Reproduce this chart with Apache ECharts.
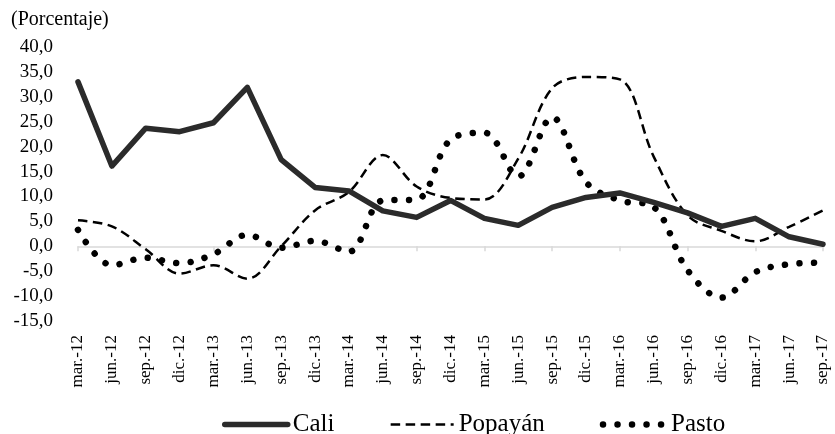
<!DOCTYPE html>
<html>
<head>
<meta charset="utf-8">
<script src="https://cdn.jsdelivr.net/npm/echarts@6/dist/echarts.min.js"></script>
<style>
html, body { margin: 0; padding: 0; background: #fff; }
#main { width: 835px; height: 434px; }
</style>
</head>
<body>
<div id="main"></div>
<script>
var meses = ['mar.-12', 'jun.-12', 'sep.-12', 'dic.-12', 'mar.-13', 'jun.-13', 'sep.-13', 'dic.-13',
	'mar.-14', 'jun.-14', 'sep.-14', 'dic.-14', 'mar.-15', 'jun.-15', 'sep.-15', 'dic.-15',
	'mar.-16', 'jun.-16', 'sep.-16', 'dic.-16', 'mar.-17', 'jun.-17', 'sep.-17'];
var cali = [33.0, 16.1, 23.7, 23.0, 24.8, 31.9, 17.4, 11.8, 11.1, 7.1, 5.8, 9.2,
	5.6, 4.2, 7.8, 9.8, 10.7, 8.8, 6.7, 4.0, 5.6, 1.9, 0.4];
var popayan = [5.2, 4.0, -0.6, -5.5, -3.8, -6.5, 0.0, 7.2, 10.9, 18.3, 12.0, 9.7,
	9.4, 17.6, 31.7, 34.0, 33.5, 18.0, 6.2, 3.1, 1.0, 3.9, 7.2];
var pasto = [3.3, -3.8, -2.3, -3.4, -1.6, 2.3, -0.3, 1.1, -1.1, 9.2, 9.4, 21.4,
	22.8, 14.0, 25.9, 12.9, 9.2, 7.9, -4.8, -10.3, -5.2, -3.6, -3.3];

var fuente = '"Liberation Serif", "Times New Roman", serif';
var letraLeyenda = { fontFamily: fuente, fontSize: 25, color: '#000' };
var myChart = echarts.init(document.getElementById('main'));

myChart.setOption({
	backgroundColor: '#fff',
	animation: false,
	textStyle: { fontFamily: fuente },
	title: {
		text: '(Porcentaje)',
		left: 11,
		top: 10,
		padding: 0,
		textStyle: { fontFamily: fuente, fontSize: 20, fontWeight: 'normal', color: '#000' }
	},
	legend: {
		left: 222,
		bottom: -3,
		padding: 0,
		itemWidth: 63,
		itemHeight: 14,
		itemGap: 55,
		itemStyle: { opacity: 0 },
		textStyle: letraLeyenda,
		data: [
			{ name: 'Cali', lineStyle: { width: 5.5 }, textStyle: letraLeyenda },
			{ name: 'Popayán', lineStyle: { width: 2.5 }, textStyle: letraLeyenda },
			{ name: 'Pasto', lineStyle: { width: 6.5 }, textStyle: letraLeyenda }
		]
	},
	grid: {
		left: 78,
		right: 12,
		top: 47,
		bottom: 113
	},
	xAxis: [{
			type: 'category',
			data: meses,
			boundaryGap: false,
			axisLine: { onZero: true, lineStyle: { color: '#d9d9d9', width: 1.5 } },
			axisTick: { show: true, length: 5, lineStyle: { color: '#d9d9d9', width: 1.5 } },
			axisLabel: { show: false },
			splitLine: { show: false }
		},
		{
			type: 'category',
			data: meses,
			position: 'bottom',
			boundaryGap: false,
			axisLine: { show: false, onZero: false },
			axisTick: { show: false },
			axisLabel: {
				rotate: 90,
				interval: 0,
				margin: 14,
				fontFamily: fuente,
				fontSize: 17,
				color: '#000'
			},
			splitLine: { show: false }
		}
	],
	yAxis: {
		type: 'value',
		min: -15,
		max: 40,
		interval: 5,
		axisLine: { show: false },
		axisTick: { show: false },
		splitLine: { show: false },
		axisLabel: {
			margin: 25,
			fontFamily: fuente,
			fontSize: 19,
			color: '#000',
			formatter: function(v) {
				return v.toFixed(1).replace('.', ',');
			}
		}
	},
	series: [{
			name: 'Cali',
			type: 'line',
			data: cali,
			symbol: 'none',
			itemStyle: { color: '#2b2b2b' },
			lineStyle: { color: '#2b2b2b', width: 5.5, cap: 'round', join: 'round' },
			z: 3
		},
		{
			name: 'Popayán',
			type: 'line',
			data: popayan,
			symbol: 'none',
			smooth: 0.35,
			itemStyle: { color: '#000' },
			lineStyle: { color: '#000', width: 2.5, type: [9.5, 5.5] },
			z: 2
		},
		{
			name: 'Pasto',
			type: 'line',
			data: pasto,
			symbol: 'none',
			smooth: 0.35,
			itemStyle: { color: '#000' },
			lineStyle: { color: '#000', width: 6.5, type: [0.01, 14.5], cap: 'round' },
			z: 2
		}
	]
});
</script>
</body>
</html>
